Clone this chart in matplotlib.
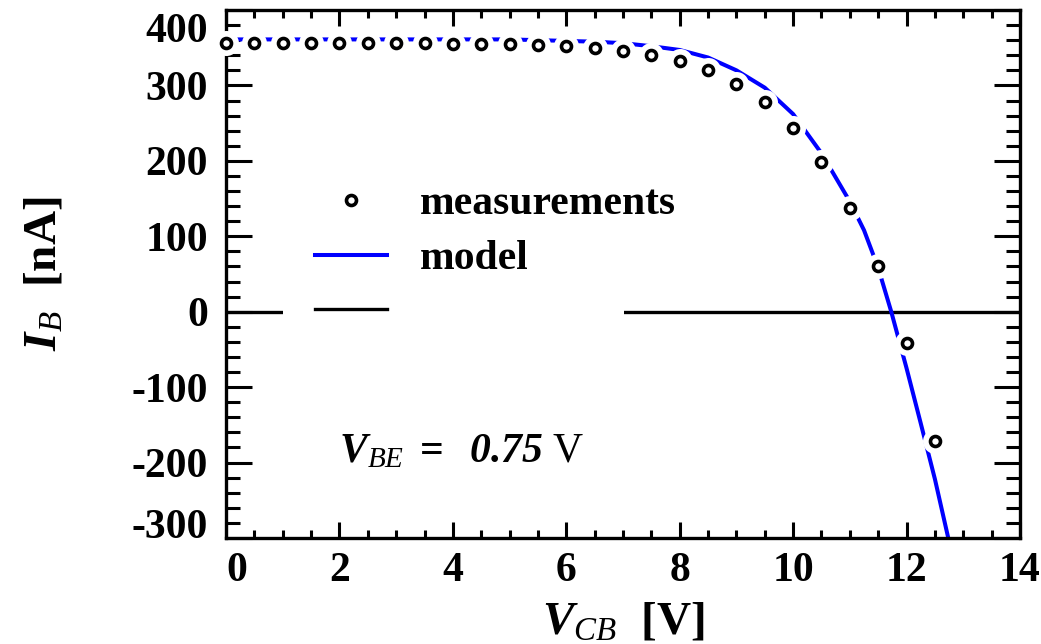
import matplotlib
matplotlib.use('Agg')
import matplotlib.pyplot as plt
from matplotlib.lines import Line2D
from matplotlib.patches import Rectangle
from matplotlib.transforms import ScaledTranslation
import numpy as np

plt.rcParams['font.family'] = ['Liberation Serif', 'DejaVu Serif']
plt.rcParams['axes.unicode_minus'] = False
plt.rcParams['mathtext.fontset'] = 'custom'
plt.rcParams['mathtext.rm'] = 'Liberation Serif'
plt.rcParams['mathtext.it'] = 'Liberation Serif:italic'
plt.rcParams['mathtext.bf'] = 'Liberation Serif:bold'
plt.rcParams['mathtext.bfit'] = 'Liberation Serif:italic:bold'

# measured base current vs collector-base voltage
v_meas = [0, 0.5, 1, 1.5, 2, 2.5, 3, 3.5, 4, 4.5, 5, 5.5, 6, 6.5, 7, 7.5, 8,
          8.5, 9, 9.5, 10, 10.5, 11, 11.5, 12, 12.5]
i_meas = [356, 356, 356, 356, 356, 356, 356, 356, 355, 355, 355, 354, 352, 349,
          346, 341, 332, 320, 302, 278, 244, 198, 138, 60, -41, -171]

# model curve
v_model = [0, 1, 2, 3, 4, 5, 5.5, 6, 6.5, 7, 7.5, 8, 8.5, 9, 9.5, 10, 10.5,
           11, 11.25, 11.5, 11.73, 12, 12.25, 12.5, 12.75]
i_model = [361, 361, 361, 361, 361, 361, 360, 359, 358, 356, 352, 347, 337,
           320, 297, 262, 210, 146, 108, 58, 0, -75, -148, -222, -305]

xticks = [0, 2, 4, 6, 8, 10, 12, 14]
yticks = [-300, -200, -100, 0, 100, 200, 300, 400]

fig = plt.figure(figsize=(10.41, 6.44), dpi=100)
ax = fig.add_axes([226/1041, 1 - 538/644, 794/1041, 528/644])

ax.axhline(0, color='black', lw=2.4, zorder=1)
ax.plot(v_model, i_model, color='#0000ff', lw=2.9, zorder=2)
# white halos around the measurement circles
ax.plot(v_meas, i_meas, ls='none', marker='o', ms=18, mfc='white', mec='none',
        zorder=3, clip_on=False)
ax.plot(v_meas, i_meas, ls='none', marker='o', ms=7.2, mfc='white', mec='black',
        mew=2.6, zorder=4, clip_on=False)

ax.set_xlim(0, 14)
ax.set_ylim(-300, 400)
ax.set_xticks(xticks)
ax.set_yticks(yticks)
ax.set_xticks(np.arange(0, 14.01, 0.5), minor=True)
ax.set_yticks(np.arange(-300, 400.1, 20), minor=True)

for s in ax.spines.values():
    s.set_linewidth(2.4)
ax.tick_params(axis='both', which='both', direction='in', top=True, right=True,
               width=2.2, labelsize=30)
ax.tick_params(axis='x', which='major', length=11.5, pad=10)
ax.tick_params(axis='x', which='minor', length=5.8)
ax.tick_params(axis='y', which='major', length=18.7, pad=13)
ax.tick_params(axis='y', which='minor', length=10)
for lab in ax.get_xticklabels() + ax.get_yticklabels():
    lab.set_fontweight('bold')

xl = ax.get_xticklabels()
xl[0].set_ha('left')
yl = ax.get_yticklabels()
yl[0].set_va('baseline')
yl[-1].set_va('top')
yl[-1].set_transform(yl[-1].get_transform() +
                     ScaledTranslation(0, -2/72, fig.dpi_scale_trans))

ax.set_xlabel(r'$\mathbfit{V}_{\mathit{CB}}$  [V]', fontsize=34, fontweight='bold')
ax.xaxis.set_label_coords(0.5, -0.18)
ax.xaxis.label.set_va('baseline')
ax.set_ylabel(r'$\mathbfit{I}_{\mathit{B}}$  [nA]', fontsize=34, fontweight='bold')
ax.yaxis.set_label_coords(-0.229, 0.5)
ax.yaxis.label.set_va('center')

ax.text(2.0, -200, r'$\mathbfit{V}_{\mathit{BE}}\ \mathbf{=}\ \ \mathbfit{0.75}$ V',
        fontsize=30, va='baseline', ha='left')

# white patch behind the legend hides part of the zero line
ax.add_patch(Rectangle((0.0718, 0.40), 0.429, 0.06, transform=ax.transAxes,
                       facecolor='white', edgecolor='none', zorder=5))

handles = [Line2D([], [], ls='none', marker='o', ms=7.2, mfc='white', mec='black', mew=2.6),
           Line2D([], [], color='#0000ff', lw=2.9),
           Line2D([], [], color='black', lw=2.4)]
leg = ax.legend(handles, ['measurements', 'model', ''], loc='upper left',
                bbox_to_anchor=(0.0718, 0.729), frameon=False, numpoints=1,
                handlelength=1.73, handletextpad=0.79, borderpad=0.77,
                borderaxespad=0, labelspacing=0.4, prop={'weight': 'bold', 'size': 30})
leg.set_zorder(6)

fig.savefig('out.png', dpi=100)
